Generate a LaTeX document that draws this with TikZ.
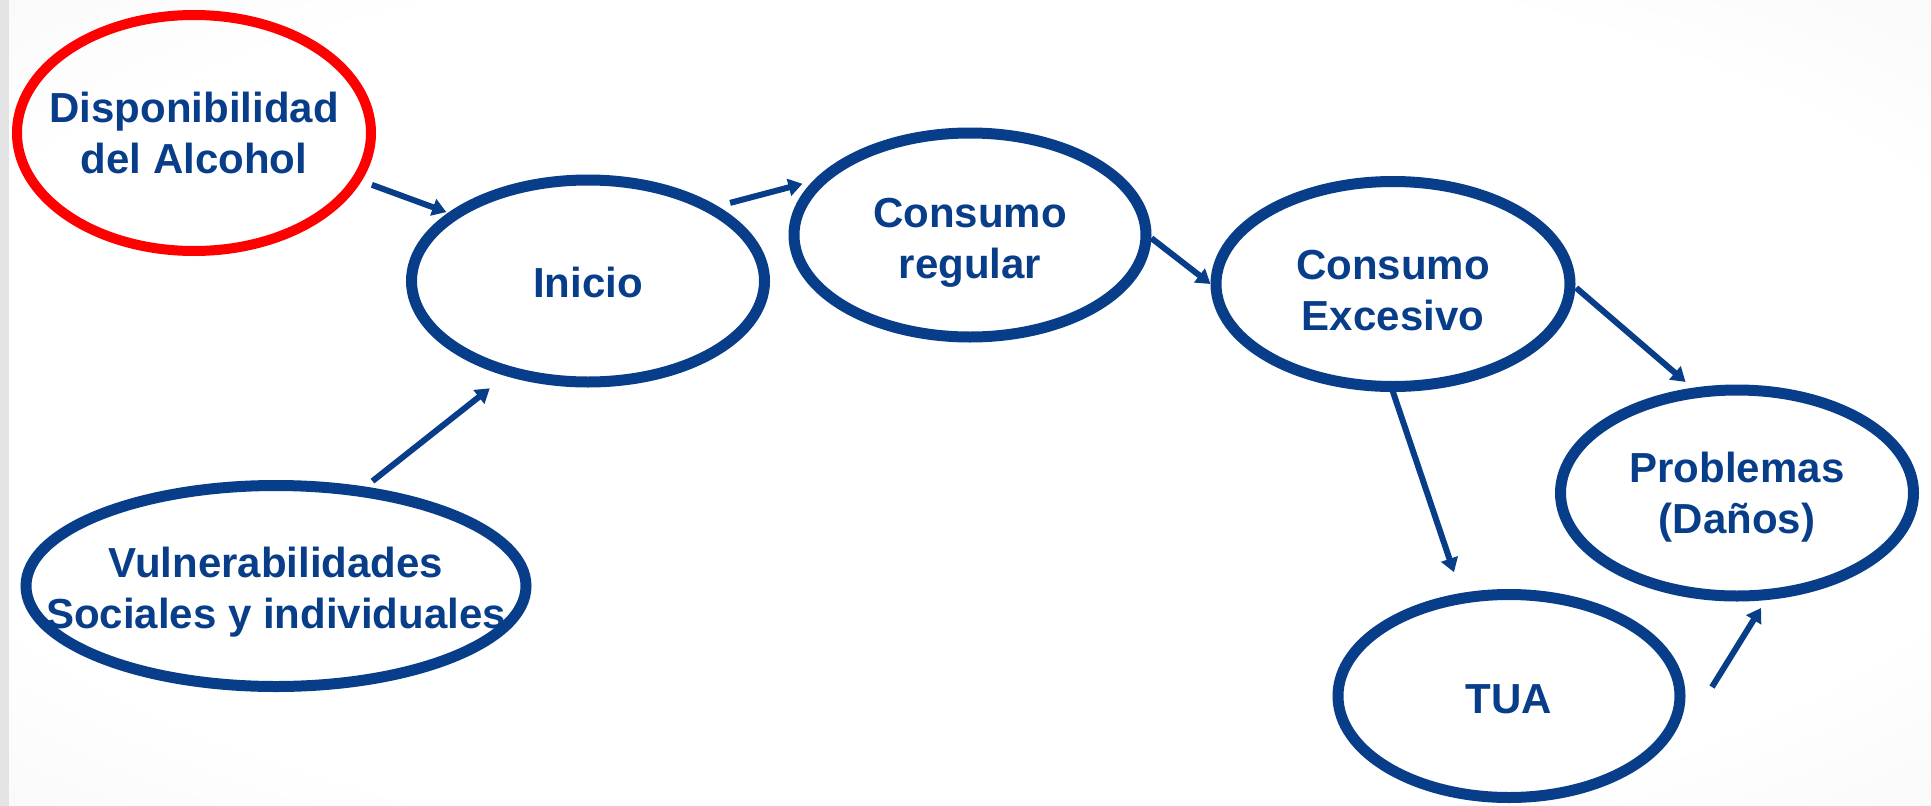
\documentclass[tikz,border=0pt]{standalone}
\usepackage{fontspec}
\setmainfont{Liberation Sans}
\usetikzlibrary{arrows.meta,shapes.geometric}
\definecolor{dblue}{RGB}{8,61,138}
\definecolor{bgedge}{RGB}{224,224,224}
\definecolor{bgstrip}{RGB}{228,228,228}
\pgfdeclareradialshading{bgshade}{\pgfpoint{0bp}{0bp}}{color(0bp)=(white); color(28bp)=(white); color(71bp)=(bgedge)}
\newcommand{\topstrut}[1]{\rule{0pt}{#1pt}}
\begin{document}
\begin{tikzpicture}[x=1pt,y=-1pt,
  oval/.style={ellipse, draw=dblue, line width=11pt, inner xsep=-60pt, inner ysep=-10pt,
    text=dblue, font=\bfseries\fontsize{42}{51}\selectfont, align=center},
  redoval/.style={oval, draw=red, line width=10pt},
  arr/.style={draw=dblue, line width=6pt, -{Triangle[length=14pt,width=17pt]}}]
\useasboundingbox (0,0) rectangle (1931,806);
\shade[shading=bgshade] (0,0) rectangle (1931,806);
\fill[bgstrip] (0,0) rectangle (9,806);

\node[redoval, minimum width=354pt, minimum height=236pt] (disp) at (194,133) {Disponibilidad\\del Alcohol};
\node[oval, minimum width=353pt, minimum height=202pt] (inicio) at (588,281) {\topstrut{33}Inicio};
\node[oval, minimum width=352pt, minimum height=204pt] (creg) at (970,235) {\topstrut{45}Consumo\\regular};
\node[oval, minimum width=354pt, minimum height=205pt] (exces) at (1393,284) {\topstrut{42}Consumo\\Excesivo};
\node[oval, minimum width=353pt, minimum height=206pt] (prob) at (1737,493) {\topstrut{38}Problemas\\(Daños)};
\node[oval, minimum width=342pt, minimum height=203pt] (tua) at (1509,696) {\topstrut{35}TUA};
\node[oval, minimum width=500pt, minimum height=201pt] (vul) at (276,586) {\topstrut{43}Vulnerabilidades\\Sociales y individuales};

\draw[arr, shorten <=11pt, shorten >=2pt] (disp.-16) -- (inicio.154);
\draw[arr, shorten <=9pt, shorten >=20pt] (vul.48) -- (inicio.-131);
\draw[arr, shorten <=13pt, shorten >=11pt] (inicio.30) -- (creg.161);
\draw[arr] (creg.-1) -- (exces.180);
\draw[arr, shorten <=1pt, shorten >=9pt] (exces.-1) -- (prob.113);
\draw[arr, shorten <=-10pt, shorten >=22pt] (exces.-90) -- (tua.115);
\draw[arr] ([shift={(26.5,-9)}]tua.east) -- ([shift={(24,6.5)}]prob.south);
\end{tikzpicture}
\end{document}
